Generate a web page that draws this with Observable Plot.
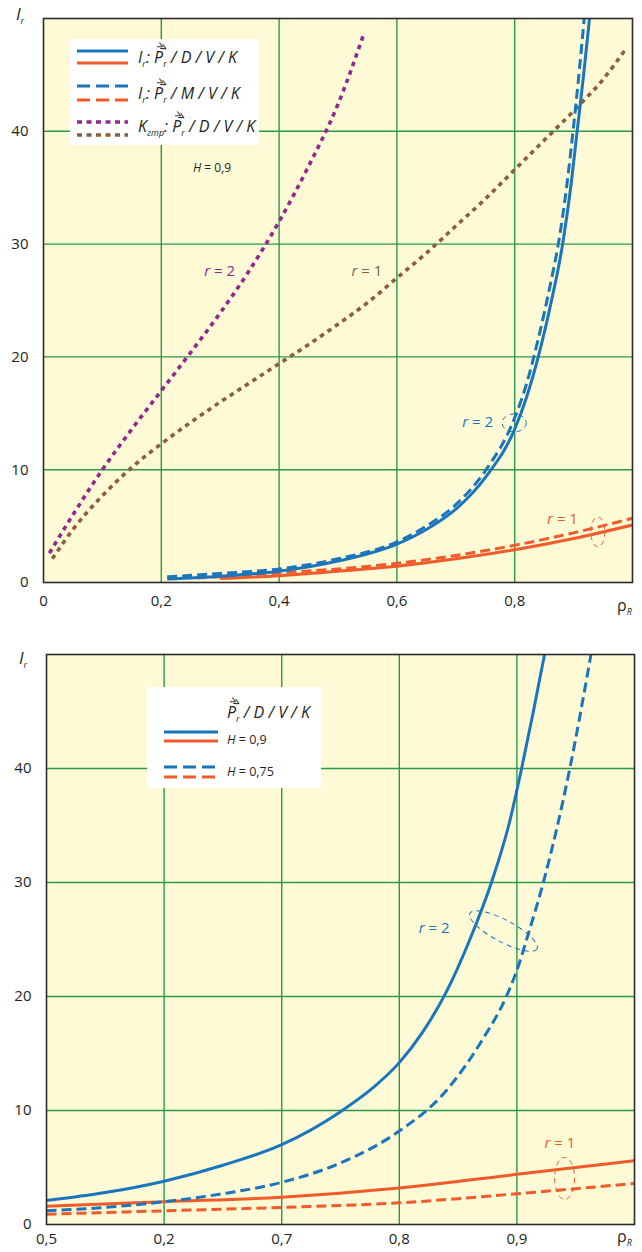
<!DOCTYPE html>
<html><head><meta charset="utf-8">
<script src="https://cdn.jsdelivr.net/npm/d3@7"></script>
<script src="https://cdn.jsdelivr.net/npm/@observablehq/plot@0.6"></script>
<style>
body{margin:0;background:#fff;font-family:"Open Sans",sans-serif;color:#231f20;}
#wrap{position:relative;width:642px;height:1252px;overflow:hidden;}
.panel{position:absolute;left:0;width:642px;}
.abs{position:absolute;white-space:nowrap;}
.legend{position:absolute;background:#fff;}
.lt{position:absolute;white-space:nowrap;font-style:italic;font-size:16px;line-height:20px;}
.pv{position:relative;display:inline-block;}
.ch{position:absolute;left:3px;top:-11px;font-size:10px;font-style:normal;transform:rotate(28deg);}
sub{font-size:9px;vertical-align:-4px;font-style:italic;}
</style></head><body><div id="wrap"></div>
<script>
// ---------- DATA ----------
// top panel: x ticks and labels
const topXTicks = [0, 0.2, 0.4, 0.6, 0.8];
const topXLabels = ["0", "0,2", "0,4", "0,6", "0,8"];
const yTicks = [0, 10, 20, 30, 40];
const gridYVals = [10, 20, 30, 40];
const topGridX = [0.2, 0.4, 0.6, 0.8];
// bottom panel ticks (labels as printed)
const botXTicks = [0.5, 0.6, 0.7, 0.8, 0.9];
const botXLabels = ["0,5", "0,2", "0,7", "0,8", "0,9"];
const botGridX = [0.6, 0.7, 0.8, 0.9];

// top panel series: [rho, I_r]
const topR2_D = [[0.21,0.3],[0.3,0.55],[0.4,1.0],[0.5,1.9],[0.6,3.4],[0.65,4.7],[0.7,6.5],[0.75,9.3],[0.8,13.6],[0.82,16.4],[0.84,20],[0.86,24.4],[0.882,30.2],[0.895,35],[0.906,40],[0.917,45],[0.927,50]];
const topR2_M = [[0.21,0.5],[0.3,0.8],[0.4,1.2],[0.5,2.1],[0.6,3.6],[0.65,5.0],[0.7,6.9],[0.75,9.9],[0.8,14.6],[0.82,17.6],[0.84,21.6],[0.86,26.3],[0.874,30],[0.888,35],[0.899,40],[0.909,45],[0.918,50]];
const topR1_D = [[0.3,0.35],[0.4,0.6],[0.5,1.0],[0.6,1.45],[0.7,2.1],[0.8,2.9],[0.9,3.9],[1.0,5.1]];
const topR1_M = [[0.26,0.4],[0.3,0.5],[0.4,0.85],[0.5,1.2],[0.6,1.7],[0.7,2.4],[0.8,3.3],[0.9,4.4],[1.0,5.7]];
const topK_r2 = [[0.01,2.6],[0.05,6.0],[0.1,10.0],[0.15,13.6],[0.2,17.0],[0.25,20.4],[0.3,23.9],[0.35,27.7],[0.4,32.0],[0.45,36.9],[0.5,42.4],[0.545,48.8]];
const topK_r1 = [[0.015,2.1],[0.05,4.7],[0.1,7.7],[0.15,10.2],[0.2,12.3],[0.25,14.2],[0.3,16.0],[0.35,17.7],[0.4,19.4],[0.45,21.1],[0.5,22.9],[0.55,24.8],[0.6,27.0],[0.65,29.2],[0.7,31.6],[0.75,34.0],[0.8,36.6],[0.85,39.2],[0.9,41.8],[0.95,44.6],[0.99,47.4]];

// bottom panel series: [rho, I_r]
const botR2_H90 = [[0.5,2.1],[0.55,2.8],[0.6,3.8],[0.65,5.2],[0.7,7.0],[0.75,9.9],[0.78,12.2],[0.8,14.2],[0.82,16.9],[0.84,20.4],[0.86,25.0],[0.879,30.2],[0.893,35],[0.904,40],[0.914,45],[0.9235,50]];
const botR2_H75 = [[0.5,1.2],[0.55,1.5],[0.6,2.0],[0.65,2.7],[0.7,3.7],[0.75,5.4],[0.8,8.2],[0.837,11.4],[0.87,16.1],[0.891,20],[0.9,22.3],[0.91,25.6],[0.923,30.2],[0.945,40],[0.963,50]];
const botR1_H90 = [[0.5,1.6],[0.6,2.0],[0.7,2.4],[0.8,3.2],[0.9,4.4],[1.0,5.6]];
const botR1_H75 = [[0.5,0.9],[0.6,1.2],[0.7,1.5],[0.8,1.9],[0.9,2.7],[1.0,3.6]];

// annotations [rho, I_r, r-value, colour]
const topNotes = [[0.30,27.6,"2","#92278f"],[0.55,27.6,"1","#8b5e3c"],[0.738,14.2,"2","#1b75bc"],[0.882,5.6,"1","#f15a29"]];
const topEllipses = [[0.80,14.1,12,9,0,"#1b75bc"],[0.942,4.45,7,15,0,"#f15a29"]];
const botNotes = [[0.83,26,"2","#1b75bc"],[0.937,7.1,"1","#f15a29"]];
const botEllipses = [[0.889,25.7,38,11,28,"#1b75bc"],[0.941,4.0,10,21,0,"#f15a29"]];

// ---------- STYLES ----------
const BLUE="#1b75bc", ORANGE="#f15a29", PURPLE="#92278f", BROWN="#8b5e3c";
const BG="#fefad6", GRID="#2a9a48", FRAME="#2b2b2b";
const DASH="10,5", DOT="4.5,4.5";

function lines(series){
  return series.map(s => Plot.line(s.pts, {x: d=>d[0], y: d=>d[1], stroke: s.c, strokeWidth: s.w, strokeDasharray: s.dash, strokeLinecap:"butt", curve:"monotone-x", clip:true}));
}

function makePlot(opts){
  const labelMap = new Map(opts.xt.map((t,i)=>[t, opts.xl[i]]));
  return Plot.plot({
    width:642, height:opts.h, marginLeft:opts.ml, marginRight:opts.mr, marginTop:opts.mt, marginBottom:opts.mb,
    style:{background:"transparent", fontFamily:'"Open Sans", sans-serif', fontSize:"15px", color:"#231f20", overflow:"visible"},
    x:{domain:opts.xd, ticks:opts.xt, tickFormat:d=>labelMap.get(d), tickSize:0, tickPadding:opts.xpad, label:null},
    y:{domain:[0,50], ticks:yTicks, tickSize:0, tickPadding:15, label:null},
    marks:[
      Plot.frame({fill:BG}),
      Plot.gridX(opts.gx, {stroke:GRID, strokeOpacity:1, strokeWidth:1.4}),
      Plot.gridY(gridYVals, {stroke:GRID, strokeOpacity:1, strokeWidth:1.4}),
      ...lines(opts.series),
      Plot.frame({stroke:FRAME, strokeWidth:1.6})
    ]
  });
}

function annotate(svg, notes, ellipses){
  const x = svg.scale("x"), y = svg.scale("y");
  const g = d3.select(svg).append("g");
  notes.forEach(n=>{
    const t = g.append("text").attr("x", x.apply(n[0])).attr("y", y.apply(n[1])).attr("text-anchor","middle").attr("dy","0.35em")
      .attr("fill", n[3]).attr("font-size", 15).attr("font-family",'"Open Sans", sans-serif');
    t.append("tspan").attr("font-style","italic").text("r");
    t.append("tspan").text(" = " + n[2]);
  });
  ellipses.forEach(e=>{
    const cx = x.apply(e[0]), cy = y.apply(e[1]);
    g.append("ellipse").attr("cx",cx).attr("cy",cy).attr("rx",e[2]).attr("ry",e[3])
      .attr("transform",`rotate(${e[4]},${cx},${cy})`).attr("fill","none").attr("stroke",e[5]).attr("stroke-width",1).attr("stroke-dasharray","5,4");
  });
}

const wrap = document.getElementById("wrap");

// ---- top panel ----
const topSvg = makePlot({h:620, ml:43, mr:10, mt:18, mb:38, xd:[0,1], xt:topXTicks, xl:topXLabels, gx:topGridX, xpad:13,
  series:[
    {pts:topK_r2, c:PURPLE, w:3.6, dash:DOT},
    {pts:topK_r1, c:BROWN, w:3.6, dash:DOT},
    {pts:topR1_D, c:ORANGE, w:3, dash:null},
    {pts:topR1_M, c:ORANGE, w:3, dash:DASH},
    {pts:topR2_D, c:BLUE, w:3, dash:null},
    {pts:topR2_M, c:BLUE, w:3, dash:DASH}
  ]});
annotate(topSvg, topNotes, topEllipses);
const p1 = document.createElement("div"); p1.className="panel"; p1.style.top="0px"; p1.appendChild(topSvg); wrap.appendChild(p1);

// ---- bottom panel ----
const botSvg = makePlot({h:632, ml:46, mr:8, mt:34, mb:28, xd:[0.5,1], xt:botXTicks, xl:botXLabels, gx:botGridX, xpad:9,
  series:[
    {pts:botR1_H90, c:ORANGE, w:3, dash:null},
    {pts:botR1_H75, c:ORANGE, w:3, dash:DASH},
    {pts:botR2_H90, c:BLUE, w:3, dash:null},
    {pts:botR2_H75, c:BLUE, w:3, dash:DASH}
  ]});
annotate(botSvg, botNotes, botEllipses);
const p2 = document.createElement("div"); p2.className="panel"; p2.style.top="620px"; p2.appendChild(botSvg); wrap.appendChild(p2);

// ---- overlays: axis titles and legends ----
const P = '<span class="pv"><i>P</i><span class="ch">≫</span></span><sub>r</sub>';
const Ir = '<i>I</i><sub>r</sub>';
wrap.insertAdjacentHTML("beforeend", `
<div class="abs" style="left:16px;top:2px;font-size:17px;">${Ir}</div>
<div class="abs" style="left:19px;top:646px;font-size:17px;">${Ir}</div>
<div class="abs" style="left:617px;top:594px;font-size:16px;">ρ<sub>R</sub></div>
<div class="abs" style="left:617px;top:1226px;font-size:16px;line-height:20px;">ρ<sub>R</sub></div>
<div class="abs" style="left:193px;top:159px;font-size:12px;"><i>H</i> = 0,9</div>

<div class="legend" style="left:70px;top:39px;width:189px;height:106px;">
  <svg width="189" height="106" style="position:absolute;left:0;top:0">
    <line x1="7" x2="58" y1="12" y2="12" stroke="${BLUE}" stroke-width="3.2"/>
    <line x1="7" x2="58" y1="24" y2="24" stroke="${ORANGE}" stroke-width="3.2"/>
    <line x1="7" x2="58" y1="47" y2="47" stroke="${BLUE}" stroke-width="3.2" stroke-dasharray="13,6"/>
    <line x1="7" x2="58" y1="61" y2="61" stroke="${ORANGE}" stroke-width="3.2" stroke-dasharray="13,6"/>
    <line x1="7" x2="58" y1="83" y2="83" stroke="${PURPLE}" stroke-width="3.6" stroke-dasharray="5,4.5"/>
    <line x1="7" x2="58" y1="96" y2="96" stroke="${BROWN}" stroke-width="3.6" stroke-dasharray="5,4.5"/>
  </svg>
  <div class="lt" style="left:68px;top:8px;">${Ir}: ${P} / D / V / K</div>
  <div class="lt" style="left:68px;top:44px;">${Ir}: ${P} / M / V / K</div>
  <div class="lt" style="left:68px;top:77px;"><i>K</i><sub>гтр</sub>: ${P} / D / V / K</div>
</div>

<div class="legend" style="left:147px;top:687px;width:174px;height:101px;">
  <svg width="174" height="101" style="position:absolute;left:0;top:0">
    <line x1="17" x2="71" y1="45" y2="45" stroke="${BLUE}" stroke-width="3"/>
    <line x1="17" x2="71" y1="54" y2="54" stroke="${ORANGE}" stroke-width="3"/>
    <line x1="17" x2="71" y1="80" y2="80" stroke="${BLUE}" stroke-width="3" stroke-dasharray="13,6"/>
    <line x1="17" x2="71" y1="90" y2="90" stroke="${ORANGE}" stroke-width="3" stroke-dasharray="13,6"/>
  </svg>
  <div class="lt" style="left:80px;top:15px;">${P} / D / V / K</div>
  <div class="abs" style="left:80px;top:44px;font-size:12.5px;"><i>H</i> = 0,9</div>
  <div class="abs" style="left:80px;top:76px;font-size:12.5px;"><i>H</i> = 0,75</div>
</div>
`);
</script>
</body></html>
